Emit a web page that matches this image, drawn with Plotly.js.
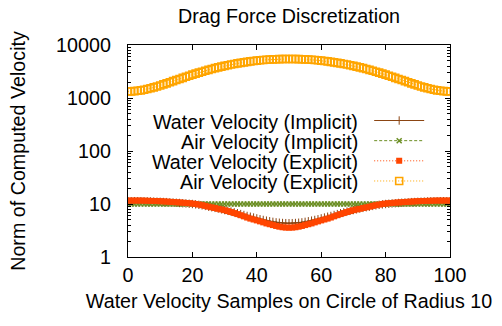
<!DOCTYPE html>
<html>
<head>
<meta charset="utf-8">
<script src="https://cdn.plot.ly/plotly-3.0.1.min.js"></script>
<style>html,body{margin:0;padding:0;background:#fff;}#chart{width:502px;height:326px;}</style>
</head>
<body>
<div id="chart"></div>
<script>
const samples = [0,1,2,3,4,5,6,7,8,9,10,11,12,13,14,15,16,17,18,19,20,21,22,23,24,25,26,27,28,29,30,31,32,33,34,35,36,37,38,39,40,41,42,43,44,45,46,47,48,49,50,51,52,53,54,55,56,57,58,59,60,61,62,63,64,65,66,67,68,69,70,71,72,73,74,75,76,77,78,79,80,81,82,83,84,85,86,87,88,89,90,91,92,93,94,95,96,97,98,99,100];

const waterImplicit = [11.3,11.3,11.3,11.3,11.3,11.25,11.2,11.15,11.1,11.05,11.0,10.9,10.85,10.75,10.65,10.55,10.45,10.35,10.25,10.1,10.0,9.85,9.65,9.45,9.2,8.95,8.7,8.45,8.2,7.95,7.7,7.45,7.2,6.95,6.7,6.45,6.2,5.95,5.75,5.55,5.35,5.15,5.0,4.85,4.72,4.6,4.5,4.43,4.38,4.35,4.34,
4.35,4.38,4.43,4.5,4.6,4.72,4.85,5.0,5.15,5.35,5.55,5.75,5.95,6.2,6.45,6.7,6.95,7.2,7.45,7.7,7.95,8.2,8.45,8.7,8.95,9.2,9.45,9.65,9.85,10.0,10.1,10.25,10.35,10.45,10.55,10.65,10.75,10.85,10.9,11.0,11.05,11.1,11.15,11.2,11.25,11.3,11.3,11.3,11.3,11.3];

const airImplicit = [10,10,10,10,10,10,10,10,10,10,10,10,10,10,10,10,10,10,10,10,10,10,10,10,10,10,10,10,10,10,10,10,10,10,10,10,10,10,10,10,10,10,10,10,10,10,10,10,10,10,10,10,10,10,10,10,10,10,10,10,10,10,10,10,10,10,10,10,10,10,10,10,10,10,10,10,10,10,10,10,10,10,10,10,10,10,10,10,10,10,10,10,10,10,10,10,10,10,10,10,10];

const waterExplicit = [11.6,11.6,11.6,11.6,11.6,11.55,11.5,11.45,11.4,11.35,11.3,11.2,11.1,11.0,10.9,10.8,10.7,10.6,10.45,10.35,10.2,10.0,9.75,9.5,9.2,8.9,8.65,8.4,8.1,7.9,7.65,7.35,7.05,6.75,6.45,6.15,5.85,5.55,5.3,5.1,4.9,4.7,4.5,4.3,4.15,4.0,3.85,3.73,3.64,3.59,3.58,
3.59,3.64,3.73,3.85,4.0,4.15,4.3,4.5,4.7,4.9,5.1,5.3,5.55,5.85,6.15,6.45,6.75,7.05,7.35,7.65,7.9,8.1,8.4,8.65,8.9,9.2,9.5,9.75,10.0,10.2,10.35,10.45,10.6,10.7,10.8,10.9,11.0,11.1,11.2,11.3,11.35,11.4,11.45,11.5,11.55,11.6,11.6,11.6,11.6,11.6];

const airExplicit = [1330,1334,1346,1367,1395,1431,1475,1527,1585,1651,1724,1804,1890,1981,2079,2181,2289,2400,2516,2635,2757,2882,3008,3136,3265,3395,3525,3654,3782,3908,4033,4155,4274,4390,4501,4609,4711,4809,4900,4986,5066,5139,5205,5263,5315,5359,5395,5423,5444,5456,5460,
5456,5444,5423,5395,5359,5315,5263,5205,5139,5066,4986,4900,4809,4711,4609,4501,4390,4274,4155,4033,3908,3782,3654,3525,3395,3265,3136,3008,2882,2757,2635,2516,2400,2289,2181,2079,1981,1890,1804,1724,1651,1585,1527,1475,1431,1395,1367,1346,1334,1330];

const seriesNames = ["Water Velocity (Implicit)","Air Velocity (Implicit)","Water Velocity (Explicit)","Air Velocity (Explicit)"];
const yTickVals = [1,10,100,1000,10000];
const yTickText = ["1","10","100","1000","10000"];
const xTickVals = [0,20,40,60,80,100];

const FONT = "Liberation Sans, Arial, Helvetica, sans-serif";

const traces = [
  {x: samples, y: waterImplicit, mode:'lines+markers', name:' ',
   line:{color:'#8b4513', width:1, dash:'solid'},
   marker:{symbol:'cross-thin', size:6, line:{color:'#8b4513', width:1}}},
  {x: samples, y: airImplicit, mode:'lines+markers', name:' ',
   line:{color:'#6b8e23', width:1, dash:'3px,2px'},
   marker:{symbol:'x-thin', size:5, line:{color:'#6b8e23', width:1.5}}},
  {x: samples, y: waterExplicit, mode:'lines+markers', name:' ',
   line:{color:'#ff4500', width:1, dash:'1px,2px'},
   marker:{symbol:'square', size:6, color:'#ff4500'}},
  {x: samples, y: airExplicit, mode:'lines+markers', name:' ',
   line:{color:'#ffa500', width:1, dash:'1px,2px'},
   marker:{symbol:'square-open', size:7, color:'#ffa500', line:{color:'#ffa500', width:1.6}}}
];

const legendRowsY = [0.638, 0.5425, 0.447, 0.3515];
const annotations = seriesNames.map((t,i)=>({
  text: t, xref:'paper', yref:'paper', x:0.7205, y:legendRowsY[i],
  xanchor:'right', yanchor:'middle', showarrow:false,
  font:{family:FONT, size:19.7, color:'#000'}
}));

const layout = {
  width:502, height:326,
  margin:{l:128, r:52, t:45, b:69},
  paper_bgcolor:'#fff', plot_bgcolor:'#fff',
  font:{family:FONT, size:19.7, color:'#000'},
  title:{text:'Drag Force Discretization', font:{family:FONT, size:19.7, color:'#000'},
         x:0.5, xref:'paper', xanchor:'center', y:0.951, yref:'container', yanchor:'middle'},
  showlegend:true,
  legend:{x:0.749, y:0.715, xanchor:'left', yanchor:'top', bgcolor:'rgba(0,0,0,0)',
          font:{family:FONT, size:13.2}, itemwidth:50, tracegroupgap:0, traceorder:'normal'},
  xaxis:{range:[0,100], tickmode:'array', tickvals:xTickVals, ticks:'inside', ticklen:5,
         tickcolor:'#000', showline:true, linecolor:'#000', linewidth:1.2, mirror:'ticks',
         showgrid:false, zeroline:false, tickfont:{family:FONT,size:19.7},
         title:{text:'Water Velocity Samples on Circle of Radius 10', font:{family:FONT,size:19.7}, standoff:9}},
  yaxis:{type:'log', range:[0,4], tickmode:'array', tickvals:yTickVals, ticktext:yTickText,
         ticks:'inside', ticklen:5, tickcolor:'#000', showline:true, linecolor:'#000', linewidth:1.2,
         mirror:'ticks', showgrid:false, zeroline:false, tickfont:{family:FONT,size:19.7},
         ticklabelstandoff:12,
         minor:{dtick:'D1', ticks:'inside', ticklen:3, tickcolor:'#000', showgrid:false},
         title:{text:'Norm of Computed Velocity', font:{family:FONT,size:19.7}, standoff:25}},
  annotations: annotations
};

Plotly.newPlot('chart', traces, layout, {displayModeBar:false, staticPlot:true});
</script>
</body>
</html>
